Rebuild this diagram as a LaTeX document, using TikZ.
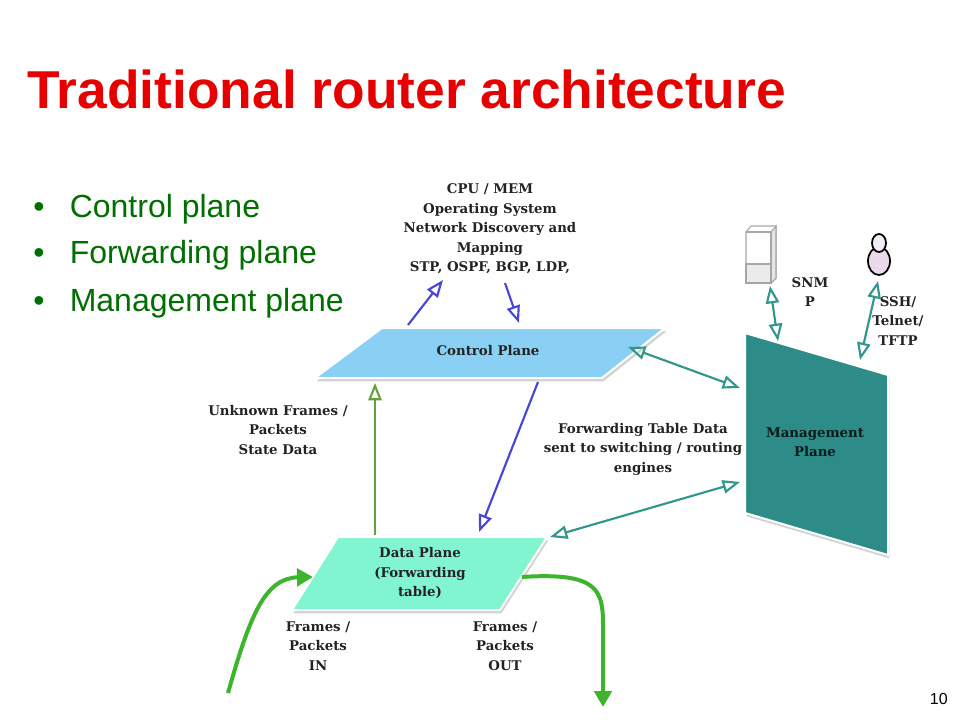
\documentclass[tikz,border=0pt]{standalone}
\usepackage{fontspec}
\setmainfont{Liberation Sans}
\newfontfamily\slab{DejaVu Serif}
\usetikzlibrary{arrows.meta,shadows}
\definecolor{titlered}{RGB}{230,0,0}
\definecolor{bulgreen}{RGB}{0,110,0}
\definecolor{cpblue}{RGB}{138,208,245}
\definecolor{dpaqua}{RGB}{128,245,208}
\definecolor{mpteal}{RGB}{46,140,136}
\definecolor{arrblue}{RGB}{70,70,215}
\definecolor{arrteal}{RGB}{50,150,140}
\definecolor{arrolive}{RGB}{100,160,60}
\definecolor{arrgreen}{RGB}{60,180,45}
\definecolor{txtdark}{RGB}{35,35,35}
\begin{document}
\begin{tikzpicture}[x=0.75pt,y=-0.75pt,
  lbl/.style={font=\slab\bfseries\fontsize{10}{14.6}\selectfont, text=txtdark, align=center, inner sep=0pt},
  bul/.style={font=\fontsize{24}{28}\selectfont, text=bulgreen, anchor=base west, inner sep=0pt},
  plane/.style={draw=white, line width=1.5pt, drop shadow={opacity=0.35, shadow xshift=1pt, shadow yshift=-2.5pt}},
  bluearr/.style={draw=arrblue, line width=1.6pt, -{Triangle[open,length=13pt,width=10pt]}},
  olivearr/.style={draw=arrolive, line width=1.6pt, -{Triangle[open,length=13pt,width=10pt]}},
  tealarr/.style={draw=arrteal, line width=1.6pt, {Triangle[open,length=13pt,width=10pt]}-{Triangle[open,length=13pt,width=10pt]}},
  greenarr/.style={draw=arrgreen, line width=3pt, -{Triangle[length=12pt,width=13pt]}}
]
\useasboundingbox (0,0) rectangle (960,720);
\fill[white] (0,0) rectangle (960,720);

% Title and bullets
\node[anchor=base west, inner sep=0pt, text=titlered, font=\bfseries\fontsize{40}{44}\selectfont] (title) at (27,109) {Traditional router architecture};
\node[bul] (b1) at (33,218) {\textbullet\hspace{19pt}Control plane};
\node[bul] (b2) at (33,264) {\textbullet\hspace{19pt}Forwarding plane};
\node[bul] (b3) at (33,311) {\textbullet\hspace{19pt}Management plane};
\node[anchor=base east, inner sep=0pt, font=\fontsize{12}{14}\selectfont] (pg) at (948,704) {10};

% Planes
\path[plane, fill=cpblue] (382,328) -- (665,328) -- (602,378) -- (315,378) -- cycle;
\node[lbl] (cpt) at (488,351) {Control Plane};
\path[plane, fill=dpaqua] (338,537) -- (547,537) -- (500,610) -- (292,610) -- cycle;
\node[lbl] (dpt) at (420,573) {Data Plane\\(Forwarding\\table)};
\path[plane, fill=mpteal] (745,333) -- (888,375) -- (888,555) -- (745,513) -- cycle;
\node[lbl, text=black!80!mpteal] (mpt) at (815,442) {Management\\Plane};

% Server icon
\begin{scope}[draw=black!35, line width=0.8pt]
  \path[fill=white, draw] (746,232) -- (751,226) -- (776,226) -- (776,278) -- (771,283) -- (746,283) -- cycle;
  \path[fill=black!10, draw] (771,232) -- (776,226) -- (776,278) -- (771,283) -- cycle;
  \draw (746,232) -- (771,232) -- (771,283);
  \path[fill=black!8, draw] (746,264) -- (771,264) -- (771,283) -- (746,283) -- cycle;
\end{scope}
\coordinate (srv) at (770,286);
% Person icon
\path[fill=violet!15, draw=black, line width=1.3pt] (879,261) ellipse (11 and 14);
\path[fill=violet!8, draw=black, line width=1.3pt] (879,243) ellipse (7 and 9);
\coordinate (usr) at (878,281);

% Labels
\node[lbl] (cpu) at (490,229) {CPU / MEM\\Operating System\\Network Discovery and\\Mapping\\STP, OSPF, BGP, LDP,};
\node[lbl] (unk) at (278,430) {Unknown Frames /\\Packets\\State Data};
\node[lbl] (fwd) at (643,449) {Forwarding Table Data\\sent to switching / routing\\engines};
\node[lbl] (snmp) at (810,292) {SNM\\P};
\node[lbl] (ssh) at (898,321) {SSH/\\Telnet/\\TFTP};
\node[lbl] (fin) at (318,646) {Frames /\\Packets\\IN};
\node[lbl] (fout) at (505,646) {Frames /\\Packets\\OUT};

% Connector end points
\coordinate (cpUpS) at (408,325);
\coordinate (cpUpE) at (443,280);
\coordinate (cpDnS) at (505,283);
\coordinate (cpDnE) at (519,323);
\coordinate (cpBot) at (538,382);
\coordinate (dpTop) at (479,532);
\coordinate (dpUp) at (375,535);
\coordinate (cpUp) at (375,383);
\coordinate (cpR) at (628,347);
\coordinate (mpL1) at (740,388);
\coordinate (dpR) at (550,537);
\coordinate (mpL2) at (740,482);
\coordinate (mpT1) at (778,341);
\coordinate (mpT2) at (860,360);
\coordinate (inS) at (228,693);
\coordinate (inE) at (313,577);
\coordinate (outS) at (522,577);
\coordinate (outE) at (603,707);

% Connectors
\draw[bluearr] (cpUpS) -- (cpUpE);
\draw[bluearr] (cpDnS) -- (cpDnE);
\draw[bluearr] (cpBot) -- (dpTop);
\draw[olivearr] (dpUp) -- (cpUp);
\draw[tealarr] (cpR) -- (mpL1);
\draw[tealarr] (dpR) -- (mpL2);
\draw[tealarr] (srv) -- (mpT1);
\draw[tealarr] (usr) -- (mpT2);
\draw[greenarr] (inS) .. controls (250,615) and (265,578) .. (inE);
\draw[greenarr] (outS) .. controls (598,572) and (603,590) .. (603,625) -- (outE);
\end{tikzpicture}
\end{document}
